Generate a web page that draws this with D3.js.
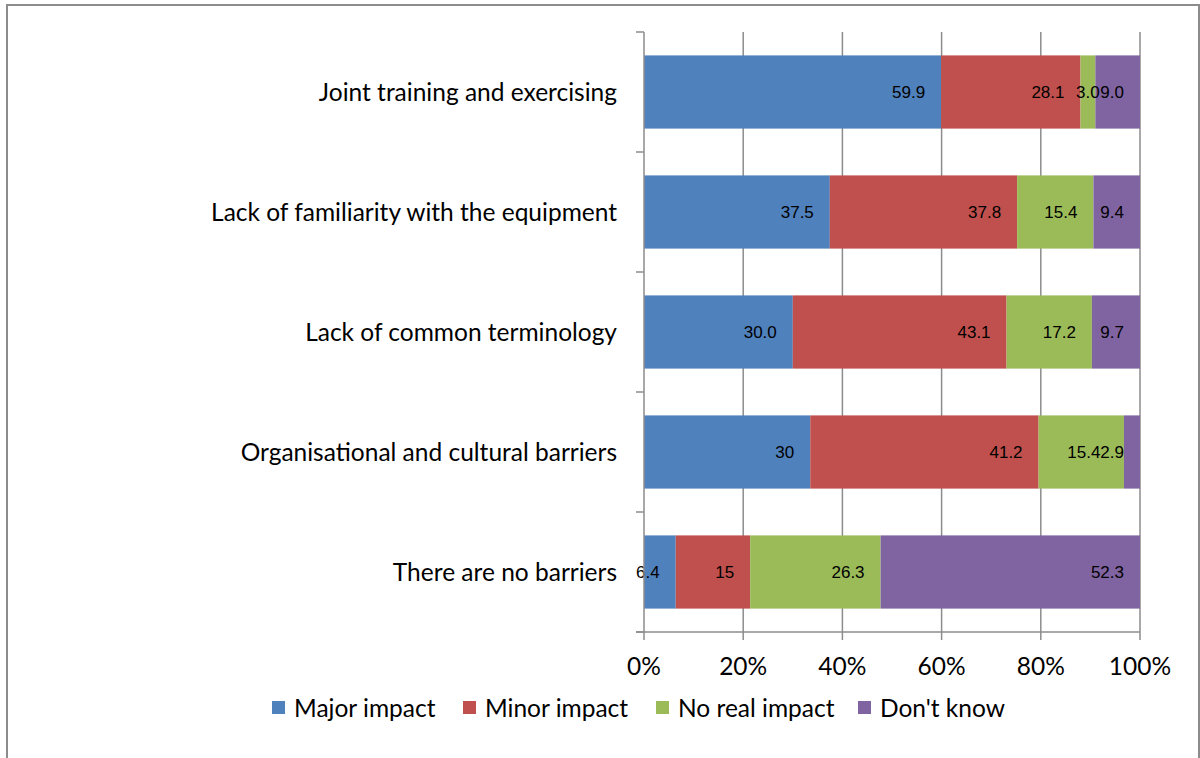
<!DOCTYPE html>
<html>
  <head>
    <meta charset="utf-8" />
    <title>Barriers to interoperability</title>
    <script src="https://d3js.org/d3.v7.min.js" charset="utf-8"></script>
    <style>
      body { margin: 0; background: #fff; }
      svg { display: block; }
      .cat { font-family: Lato, "Open Sans", sans-serif; font-size: 24.5px; fill: #000; }
      .tick-label { font-family: Lato, "Open Sans", sans-serif; font-size: 24.5px; fill: #000; }
      .value { font-family: "Liberation Sans", Arial, sans-serif; font-size: 17px; fill: #000; }
      .legend-text { font-family: Lato, "Open Sans", sans-serif; font-size: 24.5px; fill: #000; }
    </style>
  </head>
  <body>
    <svg id="canvas" width="1200" height="758"></svg>
    <script>
      // data (strings so the labels keep their own format)
      var categories = [
        "Joint training and exercising",
        "Lack of familiarity with the equipment",
        "Lack of common terminology",
        "Organisational and cultural barriers",
        "There are no barriers"
      ];
      var majorImpact = ["59.9", "37.5", "30.0", "30", "6.4"];
      var minorImpact = ["28.1", "37.8", "43.1", "41.2", "15"];
      var noRealImpact = ["3.0", "15.4", "17.2", "15.4", "26.3"];
      var dontKnow = ["9.0", "9.4", "9.7", "2.9", "52.3"];

      var seriesNames = ["Major impact", "Minor impact", "No real impact", "Don't know"];
      var seriesColors = ["#4f81bd", "#c0504d", "#9bbb59", "#8064a2"];
      var xTicks = [0, 0.2, 0.4, 0.6, 0.8, 1];

      var seriesValues = [majorImpact, minorImpact, noRealImpact, dontKnow];

      // one row per category, keyed by series name
      var rows = categories.map(function (c, i) {
        var row = { category: c };
        seriesNames.forEach(function (s, j) {
          row[s] = seriesValues[j][i];
        });
        return row;
      });

      var canvas = d3.select("#canvas");

      // frame
      canvas.append("path")
        .attr("d", "M7,758 V5 H1199 V758")
        .attr("fill", "none")
        .attr("stroke", "#8c8c8c")
        .attr("stroke-width", 2);

      var x = d3.scaleLinear().domain([0, 1]).range([644, 1140]);
      var y = d3.scaleBand().domain(categories).range([32, 632]).paddingInner(0.39).paddingOuter(0.195);

      var stack = d3.stack()
        .keys(seriesNames)
        .value(function (d, key) { return +d[key]; })
        .offset(d3.stackOffsetExpand);
      var stacked = stack(rows);

      // gridlines
      canvas.append("g")
        .selectAll("line")
        .data(xTicks.slice(1))
        .enter()
        .append("line")
        .attr("x1", function (d) { return x(d); })
        .attr("x2", function (d) { return x(d); })
        .attr("y1", 32)
        .attr("y2", 640)
        .attr("stroke", "#8c8c8c")
        .attr("stroke-width", 1.5);

      // bars
      var layer = canvas.append("g")
        .selectAll("g")
        .data(stacked)
        .enter()
        .append("g")
        .attr("fill", function (d, i) { return seriesColors[i]; });

      layer.selectAll("rect")
        .data(function (d) { return d; })
        .enter()
        .append("rect")
        .attr("x", function (d) { return x(d[0]); })
        .attr("width", function (d) { return x(d[1]) - x(d[0]); })
        .attr("y", function (d) { return y(d.data.category); })
        .attr("height", y.bandwidth());

      // value labels, inside end of each segment
      var pad = 16;
      var labelGroups = stacked.map(function (s) {
        return canvas.append("g")
          .selectAll("text")
          .data(s)
          .enter()
          .append("text")
          .attr("class", "value")
          .attr("x", function (d) { return x(d[1]) - pad; })
          .attr("y", function (d) { return y(d.data.category) + y.bandwidth() / 2; })
          .attr("dy", "0.36em")
          .attr("text-anchor", "end")
          .text(function (d) { return d.data[s.key]; });
      });

      // labels wider than their segment sit on its centre (kept inside the plot);
      // then push labels left when they run into the one on their right
      labelGroups.forEach(function (g) {
        g.each(function (d) {
          var w = this.getComputedTextLength();
          var segW = x(d[1]) - x(d[0]);
          if (w > segW) {
            var right = Math.min((x(d[0]) + x(d[1])) / 2 + w / 2, x(1) - pad);
            this.setAttribute("x", right);
          }
        });
      });
      categories.forEach(function (c, i) {
        var limit = Infinity;
        for (var j = labelGroups.length - 1; j >= 0; j--) {
          var node = labelGroups[j].nodes()[i];
          var right = +node.getAttribute("x");
          var w = node.getComputedTextLength();
          if (right > limit) {
            right = limit;
            node.setAttribute("x", right);
          }
          limit = right - w;
        }
      });

      // y axis
      var yAxis = canvas.append("g");
      yAxis.append("line")
        .attr("x1", 644).attr("x2", 644)
        .attr("y1", 32).attr("y2", 640)
        .attr("stroke", "#8c8c8c").attr("stroke-width", 1.5);
      var yBounds = categories.map(function (c) { return y(c) - y.step() * y.paddingOuter(); });
      yBounds.push(632);
      yAxis.selectAll("line.tk")
        .data(yBounds)
        .enter()
        .append("line")
        .attr("class", "tk")
        .attr("x1", 636).attr("x2", 644)
        .attr("y1", function (d) { return d; })
        .attr("y2", function (d) { return d; })
        .attr("stroke", "#8c8c8c").attr("stroke-width", 1.5);

      yAxis.selectAll("text")
        .data(categories)
        .enter()
        .append("text")
        .attr("class", "cat")
        .attr("x", 617)
        .attr("y", function (d) { return y(d) + y.bandwidth() / 2; })
        .attr("dy", "0.35em")
        .attr("text-anchor", "end")
        .text(function (d) { return d; });

      // x axis
      var xAxis = canvas.append("g");
      xAxis.append("line")
        .attr("x1", 636).attr("x2", x(1))
        .attr("y1", 632).attr("y2", 632)
        .attr("stroke", "#8c8c8c").attr("stroke-width", 1.5);
      xAxis.selectAll("text")
        .data(xTicks)
        .enter()
        .append("text")
        .attr("class", "tick-label")
        .attr("x", function (d) { return x(d); })
        .attr("y", 675)
        .attr("text-anchor", "middle")
        .text(d3.format(".0%"));

      // legend
      var legend = canvas.append("g").attr("transform", "translate(272,701)");
      var legendX = [0, 191, 384, 586];
      var item = legend.selectAll("g")
        .data(seriesNames)
        .enter()
        .append("g")
        .attr("transform", function (d, i) { return "translate(" + legendX[i] + ",0)"; });
      item.append("rect")
        .attr("width", 13).attr("height", 13)
        .attr("fill", function (d, i) { return seriesColors[i]; });
      item.append("text")
        .attr("class", "legend-text")
        .attr("x", 22)
        .attr("y", 7)
        .attr("dy", "0.35em")
        .text(function (d) { return d; });
    </script>
  </body>
</html>
